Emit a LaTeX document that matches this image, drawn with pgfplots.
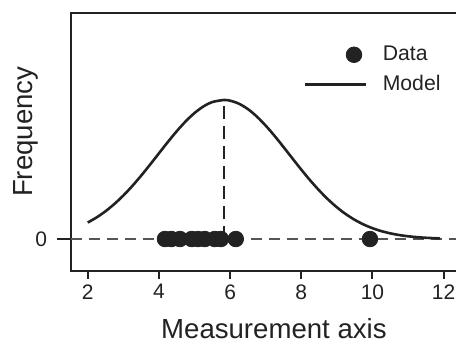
\documentclass[border=0pt]{standalone}
\usepackage{pgfplots}
\pgfplotsset{compat=1.18}
\usepackage{fontspec}
\setmainfont{Liberation Sans}
\definecolor{ink}{HTML}{222222}
\definecolor{dashgray}{HTML}{555555}
\begin{document}
\begin{tikzpicture}
\clip (-35.5pt,-35.5pt) rectangle (192.5pt,135.5pt);
\begin{axis}[
  at={(0pt,0pt)}, anchor=south west,
  scale only axis, width=197pt, height=129pt,
  xmin=1.53, xmax=12.6, ymin=-0.23, ymax=1.626,
  clip=false,
  xtick={2,4,6,8,10,12}, ytick={0},
  tick pos=left,
  /pgf/number format/assume math mode=true,
  axis line style={line width=1pt, color=ink},
  tick align=outside, major tick length=4pt,
  x tick style={line width=1pt, color=ink},
  y tick style={draw=none},
  ticklabel style={font=\fontsize{10.5}{12}\selectfont, text=ink},
  xticklabel style={yshift=0.8pt},
  yticklabel style={xshift=-4.5pt},
  xlabel={Measurement axis},
  ylabel={Frequency},
  label style={font=\fontsize{13.8}{16}\selectfont, text=ink},
  xlabel style={at={(axis description cs:0.515,0)}, anchor=north, yshift=-20.2pt},
  ylabel style={at={(axis description cs:-0.165,0.54)}, anchor=north, rotate=0},
  legend cell align=left,
  legend style={draw=none, fill=none, at={(rel axis cs:0,1)}, anchor=north west,
    xshift=116.5pt, yshift=-14.5pt, inner sep=0pt, outer sep=0pt, row sep=2pt,
    font=\fontsize{10.6}{12}\selectfont, text=ink,
    /tikz/every odd column/.append style={column sep=5.5pt}},
]
% horizontal zero line
\addplot[forget plot, dashgray, line width=1pt, dash pattern=on 5.5pt off 3.5pt] coordinates {(1.53,0) (12.6,0)};
\addplot[forget plot, ink, line width=1pt] coordinates {(1.14,0) (1.53,0)};
% vertical dashed line at mode
\addplot[forget plot, ink, line width=1pt, dash pattern=on 6.5pt off 3.5pt] coordinates {(5.82,0) (5.82,1)};
% data
\addplot[only marks, mark=*, mark size=3.9pt, color=ink, mark options={fill=ink, draw=ink},
  legend image code/.code={\draw[ink, fill=ink] (24.3pt,0pt) circle (3.9pt);}]
  coordinates {(4.17,0) (4.35,0) (4.59,0) (4.92,0) (5.10,0) (5.29,0) (5.57,0) (5.74,0) (6.16,0) (9.93,0)};
\addlegendentry{Data}
% model
\addplot[ink, line width=1.3pt, smooth,
  legend image code/.code={\draw[ink, line width=1.4pt] (0pt,0pt) -- (30.5pt,0pt);}]
  coordinates {
(2,0.1186) (2.25,0.1554) (2.5,0.1999) (2.75,0.2524) (3,0.3129) (3.25,0.3810)
(3.5,0.4555) (3.75,0.5347) (4,0.6164) (4.25,0.6976) (4.5,0.7753) (4.75,0.8460)
(5,0.9064) (5.25,0.9536) (5.5,0.9852) (5.82,1.0) (6,0.9953) (6.25,0.9733)
(6.5,0.9347) (6.75,0.8813) (7,0.8159) (7.25,0.7418) (7.5,0.6621) (7.75,0.5803)
(8,0.4994) (8.25,0.4220) (8.5,0.3502) (8.75,0.2853) (9,0.2283) (9.25,0.1793)
(9.5,0.1383) (9.75,0.1047) (10,0.0779) (10.25,0.0569) (10.5,0.0408) (10.75,0.0287)
(11,0.0198) (11.25,0.0135) (11.5,0.0090) (11.75,0.0059) (11.9,0.0045)};
\addlegendentry{Model}
\end{axis}
\end{tikzpicture}
\end{document}
